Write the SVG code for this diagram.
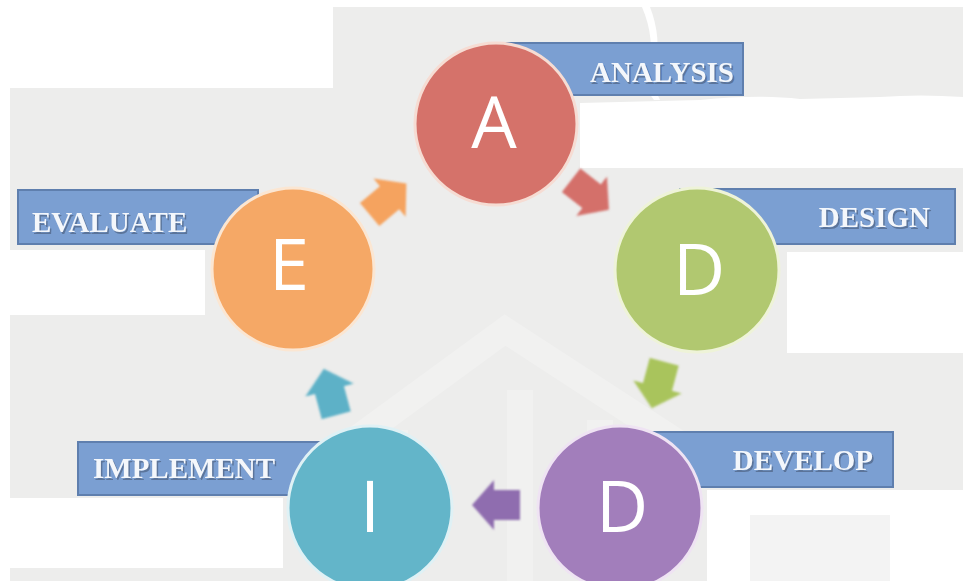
<svg xmlns="http://www.w3.org/2000/svg" width="963" height="581" viewBox="0 0 963 581">
  <defs>
    <style>
      .bg { fill: #ededec; }
      .wh { fill: #ffffff; }
      .label rect { fill: #7b9fd2; stroke: #5f7fae; stroke-width: 2; }
      .label text { font-family: "Liberation Serif", "Times New Roman", serif; font-weight: bold; font-size: 29px; }
      .label .shade { fill: #3c4b63; opacity: 0.5; }
      .label .face { fill: #f4f7fb; }
      .node circle { stroke-width: 3; }
      .node text { font-family: "Open Sans", "DejaVu Sans", sans-serif; font-weight: 400; font-size: 72px; fill: #ffffff; text-anchor: middle; }
    </style>
    <path id="arrow" d="M -24,-15 L 2,-15 L 2,-25 L 24,0 L 2,25 L 2,15 L -24,15 Z"/>
    <filter id="soft" x="-20%" y="-20%" width="140%" height="140%">
      <feGaussianBlur stdDeviation="0.8"/>
    </filter>
  </defs>

  <!-- backdrop with lighter patches -->
  <rect class="wh" x="0" y="0" width="963" height="581"/>
  <rect class="bg" x="10" y="7" width="953" height="574"/>
  <rect class="wh" x="10" y="0" width="323" height="88"/>
  <path class="wh" d="M 580,103 L 700,100 Q 760,94 800,99 L 880,97 Q 920,94 963,97 L 963,168 L 580,168 Z"/>
  <path class="wh" d="M 642,7 Q 656,40 648,70 Q 644,88 654,100 L 660,100 Q 652,86 655,68 Q 662,38 650,7 Z"/>
  <rect class="wh" x="10" y="250" width="195" height="65"/>
  <rect class="wh" x="787" y="252" width="176" height="101"/>
  <rect class="wh" x="10" y="498" width="273" height="70"/>
  <rect class="wh" x="707" y="490" width="256" height="91"/>

  <!-- faint backdrop emblem -->
  <g fill="none" stroke="#ffffff" stroke-opacity="0.22" stroke-width="26">
    <polyline points="300,480 505,330 720,470"/>
    <line x1="395" y1="430" x2="395" y2="581"/>
    <line x1="520" y1="390" x2="520" y2="581"/>
    <line x1="600" y1="420" x2="600" y2="581"/>
  </g>
  <g fill="#f3f3f3">
    <rect x="750" y="515" width="140" height="66"/>
  </g>

  <!-- connectors: block arrows around the cycle -->
  <g id="connectors" filter="url(#soft)">
    <use href="#arrow" fill="#f5a35e" transform="translate(388,199) rotate(-40)"/>
    <use href="#arrow" fill="#d4706a" transform="translate(590,195) rotate(38)"/>
    <use href="#arrow" fill="#a9c45c" transform="translate(658,385) rotate(105)"/>
    <use href="#arrow" fill="#8f6daf" transform="translate(496,505) rotate(180)"/>
    <use href="#arrow" fill="#5db1c7" transform="translate(330,392) rotate(-105)"/>
  </g>

  <!-- ANALYSIS -->
  <g id="analysis">
    <g class="label">
      <rect x="500" y="43" width="243" height="52"/>
      <text class="shade" x="735.5" y="83.5" text-anchor="end">ANALYSIS</text>
      <text class="face" x="734" y="82" text-anchor="end">ANALYSIS</text>
    </g>
    <g class="node">
      <circle cx="496" cy="124" r="81" fill="#d5726a" stroke="#f6dcd3"/>
      <text x="494" y="148">A</text>
    </g>
  </g>

  <!-- DESIGN -->
  <g id="design">
    <g class="label">
      <rect x="680" y="189" width="275" height="55"/>
      <text class="shade" x="931.5" y="228.5" text-anchor="end">DESIGN</text>
      <text class="face" x="930" y="227" text-anchor="end">DESIGN</text>
    </g>
    <g class="node">
      <circle cx="697" cy="270" r="82" fill="#b1c870" stroke="#eef3d8"/>
      <text x="699" y="295">D</text>
    </g>
  </g>

  <!-- DEVELOP -->
  <g id="develop">
    <g class="label">
      <rect x="640" y="432" width="253" height="55"/>
      <text class="shade" x="874.5" y="471.5" text-anchor="end">DEVELOP</text>
      <text class="face" x="873" y="470" text-anchor="end">DEVELOP</text>
    </g>
    <g class="node">
      <circle cx="620" cy="508" r="82" fill="#a27ebb" stroke="#efe3f3"/>
      <text x="622" y="532">D</text>
    </g>
  </g>

  <!-- IMPLEMENT -->
  <g id="implement">
    <g class="label">
      <rect x="78" y="442" width="250" height="53"/>
      <text class="shade" x="94.5" y="479.5">IMPLEMENT</text>
      <text class="face" x="93" y="478">IMPLEMENT</text>
    </g>
    <g class="node">
      <circle cx="370" cy="508" r="82" fill="#63b5c9" stroke="#dff1f5"/>
      <text x="370" y="532">I</text>
    </g>
  </g>

  <!-- EVALUATE -->
  <g id="evaluate">
    <g class="label">
      <rect x="18" y="190" width="240" height="54"/>
      <text class="shade" x="33.5" y="233.5">EVALUATE</text>
      <text class="face" x="32" y="232">EVALUATE</text>
    </g>
    <g class="node">
      <circle cx="293" cy="269" r="81" fill="#f5a866" stroke="#fbe6d2"/>
      <text x="289" y="290">E</text>
    </g>
  </g>
</svg>
